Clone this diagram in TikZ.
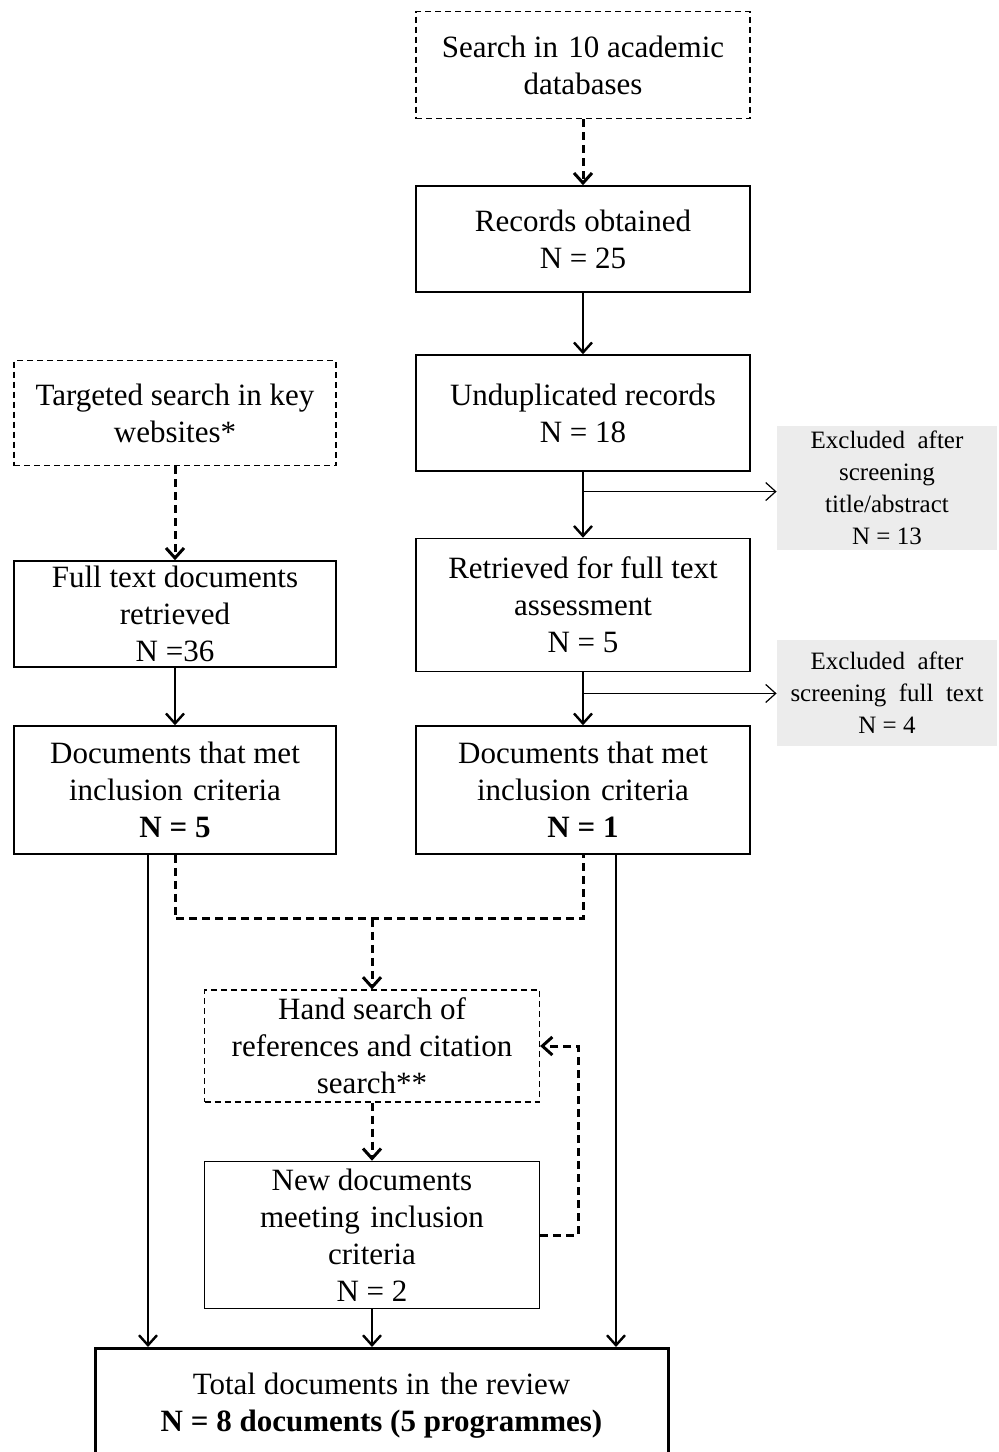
\documentclass[tikz,border=0pt]{standalone}
\usepackage{fontspec}
\setmainfont{Liberation Serif}
\usepackage{tikz}
\usetikzlibrary{calc, arrows.meta, positioning}

\begin{document}
\begin{tikzpicture}[x=0.5pt, y=-0.5pt,
    >={Straight Barb[length=5pt, width=9pt]},
    box/.style={draw, line width=0.75pt, align=center, inner sep=0pt,
        minimum width=167pt, font=\fontsize{15.5}{18.5}\selectfont},
    dbox/.style={box, dash pattern=on 3pt off 2pt, line width=0.6pt},
    greybox/.style={fill=gray!15, align=center, inner sep=0pt,
        minimum width=110pt, font=\fontsize{12.5}{16}\selectfont},
    solarrow/.style={->, line width=1.2pt},
    dasharrow/.style={->, line width=1.5pt, dash pattern=on 4pt off 2.5pt},
    dashline/.style={line width=1.5pt, dash pattern=on 4pt off 2.5pt},
    thinarrow/.style={->, line width=0.6pt}]
    \useasboundingbox (0,0) rectangle (998,1452);
    \clip (0,0) rectangle (998,1452);

    % 1. Nhánh bên phải: cơ sở dữ liệu học thuật
    \node[dbox, minimum height=53.5pt] (search) at (583,65)
        {Search in\,\,10 academic\\databases};
    \node[box, minimum height=53pt] (records) at (583,239)
        {Records obtained\\N = 25};
    \node[box, minimum height=58pt] (undup) at (583,413)
        {Unduplicated records\\N = 18};
    \node[box, minimum height=66.5pt] (retrieved) at (583,605)
        {Retrieved for full text\\assessment\\N = 5};
    \node[box, minimum height=64pt] (metright) at (583,790)
        {Documents that met\\inclusion\,\,criteria\\\textbf{N = 1}};

    % Các hộp loại trừ màu xám
    \node[greybox, minimum height=62pt] (exclone) at (887,488)
        {Excluded\,\,\,after\\screening\\title/abstract\\N = 13};
    \node[greybox, minimum height=53pt] (excltwo) at (887,693)
        {Excluded\,\,\,after\\screening\,\,\,full\,\,\,text\\N = 4};

    % 2. Nhánh bên trái: tìm kiếm trên website
    \node[dbox, minimum width=161pt, minimum height=52.5pt] (targeted) at (175,413)
        {Targeted search in key\\websites*};
    \node[box, minimum width=161pt, minimum height=53pt] (fulltext) at (175,614)
        {Full text documents\\retrieved\\N =36};
    \node[box, minimum width=161pt, minimum height=64pt] (metleft) at (175,790)
        {Documents that met\\inclusion\,\,criteria\\\textbf{N = 5}};

    % 3. Tìm kiếm thủ công và tổng kết
    \node[dbox, minimum width=167.5pt, minimum height=56pt] (hand) at (372,1046)
        {Hand search of\\references and citation\\search**};
    \node[box, minimum width=167.5pt, minimum height=73.5pt] (newdocs) at (372,1235)
        {New documents\\meeting\,\,inclusion\\criteria\\N = 2};
    \node[box, line width=1.5pt, minimum width=286.5pt, minimum height=57.5pt] (total) at (381.5,1406)
        {Total documents in\,\,the review\\\textbf{N = 8 documents (5 programmes)}};

    % 4. Các mũi tên nối
    \draw[dasharrow] (search) -- (records);
    \draw[solarrow] (records) -- (undup);
    \draw[solarrow] (undup) -- (retrieved);
    \draw[solarrow] (retrieved) -- (metright);
    \coordinate (brone) at ($(undup.south)!0.3!(retrieved.north)$);
    \draw[thinarrow] (brone) -- (brone -| exclone.west);
    \coordinate (brtwo) at ($(retrieved.south)!0.4!(metright.north)$);
    \draw[thinarrow] (brtwo) -- (brtwo -| excltwo.west);

    \draw[dasharrow] (targeted) -- (fulltext);
    \draw[solarrow] (fulltext) -- (metleft);

    % Đường nét đứt gộp hai nhánh
    \coordinate (join) at ($(metleft.south)+(0,64)$);
    \draw[dashline] (metleft.south) -- (join) -| (metright.south);
    \draw[dasharrow] (hand.north |- join) -- (hand);
    \draw[dasharrow] (hand) -- (newdocs);
    \draw[dasharrow] (newdocs.east) -- ++(38,0) |- (hand.east);

    % Mũi tên xuống hộp tổng kết
    \draw[solarrow] ([xshift=-13.5pt]metleft.south) -- ([xshift=-13.5pt]metleft.south |- total.north);
    \draw[solarrow] ([xshift=16.5pt]metright.south) -- ([xshift=16.5pt]metright.south |- total.north);
    \draw[solarrow] (newdocs.south) -- (newdocs.south |- total.north);

\end{tikzpicture}
\end{document}
